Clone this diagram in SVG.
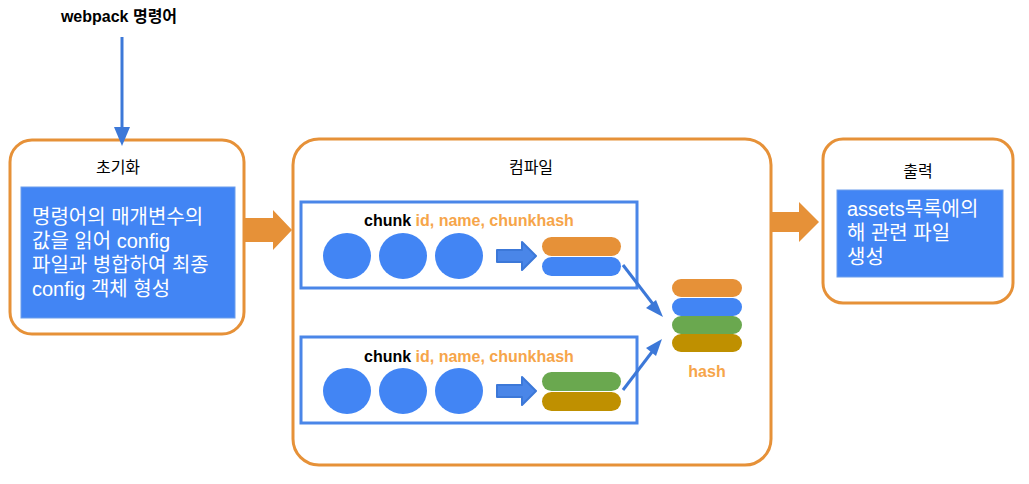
<svg xmlns="http://www.w3.org/2000/svg" width="1029" height="484" viewBox="0 0 1029 484">
<style>
text{font-family:"Liberation Sans","Noto Sans CJK KR",sans-serif}
.frame{fill:#fff;stroke:#e69138;stroke-width:3}
.inner{fill:#4285f4;stroke:#6d9eeb;stroke-width:1}
.title{font-size:16px;fill:#000;text-anchor:middle}
.body{font-size:20px;fill:#fff}
.chunkbox{fill:#fff;stroke:#4a86e8;stroke-width:3}
.dot{fill:#4285f4}
.lbl{font-size:16px;font-weight:bold}
.hl{fill:#f6a54a}
.conn{stroke:#3c78d8;stroke-width:3;fill:none}
.big{fill:#e69138}
.small{fill:#4a86e8;stroke:#3c78d8;stroke-width:2;stroke-linejoin:round}
</style>
<g id="cmd">
<text x="119" y="22" class="title" style="font-weight:bold">webpack 명령어</text>
</g>
<g id="init">
<rect x="10" y="140" width="234" height="194" rx="22" class="frame"/>
<text x="118" y="173" class="title">초기화</text>
<rect x="21" y="187" width="214" height="131" class="inner"/>
<text class="body"><tspan x="32" y="224">명령어의 매개변수의</tspan><tspan x="32" y="248">값을 읽어 config</tspan><tspan x="32" y="272">파일과 병합하여 최종</tspan><tspan x="32" y="296">config 객체 형성</tspan></text>
</g>
<g id="compile">
<rect x="293" y="139" width="478" height="326" rx="26" class="frame"/>
<text x="531" y="173" class="title">컴파일</text>
</g>
<g id="chunk1">
<rect x="301" y="202" width="336" height="86" class="chunkbox"/>
<text x="364" y="226" class="lbl">chunk <tspan class="hl">id, name, chunkhash</tspan></text>
<ellipse cx="347" cy="256" rx="24" ry="23" class="dot"/>
<ellipse cx="403" cy="256" rx="24" ry="23" class="dot"/>
<ellipse cx="459" cy="256" rx="24" ry="23" class="dot"/>
<path d="M497,250 h25 v-8 l14,14 l-14,14 v-8 h-25 z" class="small"/>
<rect x="542" y="237" width="79" height="19" rx="9.5" fill="#e69138"/>
<rect x="542" y="257" width="79" height="19" rx="9.5" fill="#4285f4"/>
</g>
<g id="chunk2">
<rect x="301" y="337" width="336" height="86" class="chunkbox"/>
<text x="364" y="362" class="lbl">chunk <tspan class="hl">id, name, chunkhash</tspan></text>
<ellipse cx="347" cy="391" rx="24" ry="23" class="dot"/>
<ellipse cx="403" cy="391" rx="24" ry="23" class="dot"/>
<ellipse cx="459" cy="391" rx="24" ry="23" class="dot"/>
<path d="M497,385 h25 v-8 l14,14 l-14,14 v-8 h-25 z" class="small"/>
<rect x="542" y="372" width="79" height="19" rx="9.5" fill="#6aa84f"/>
<rect x="542" y="392" width="79" height="19" rx="9.5" fill="#bf9000"/>
</g>
<g id="hash">
<rect x="672" y="279" width="70" height="18" rx="9" fill="#e69138"/>
<rect x="672" y="298" width="70" height="18" rx="9" fill="#4285f4"/>
<rect x="672" y="316" width="70" height="18" rx="9" fill="#6aa84f"/>
<rect x="672" y="334" width="70" height="18" rx="9" fill="#bf9000"/>
<text x="707" y="377" class="lbl hl" text-anchor="middle">hash</text>
</g>
<g id="output">
<rect x="823" y="139" width="190" height="164" rx="20" class="frame"/>
<text x="918" y="177" class="title">출력</text>
<rect x="837" y="190" width="166" height="87" class="inner"/>
<text class="body"><tspan x="847" y="216">assets목록에의</tspan><tspan x="847" y="240">해 관련 파일</tspan><tspan x="847" y="264">생성</tspan></text>
</g>
<g id="connectors">
<line x1="122" y1="37" x2="122" y2="130" class="conn"/>
<path d="M122,146 l-8,-19 h16 z" fill="#3c78d8"/>
<line x1="623" y1="265" x2="656" y2="308" class="conn"/>
<path d="M663,317 l-17,-9 l10,-8 z" fill="#3c78d8"/>
<line x1="623" y1="390" x2="655" y2="348" class="conn"/>
<path d="M662,339 l-16,9 l10,8 z" fill="#3c78d8"/>
<path d="M243,218 h30 v-8 l19,20 l-19,20 v-8 h-30 z" class="big"/>
<path d="M772,212 h27 v-10 l20,20 l-20,20 v-10 h-27 z" class="big"/>
</g>
</svg>
